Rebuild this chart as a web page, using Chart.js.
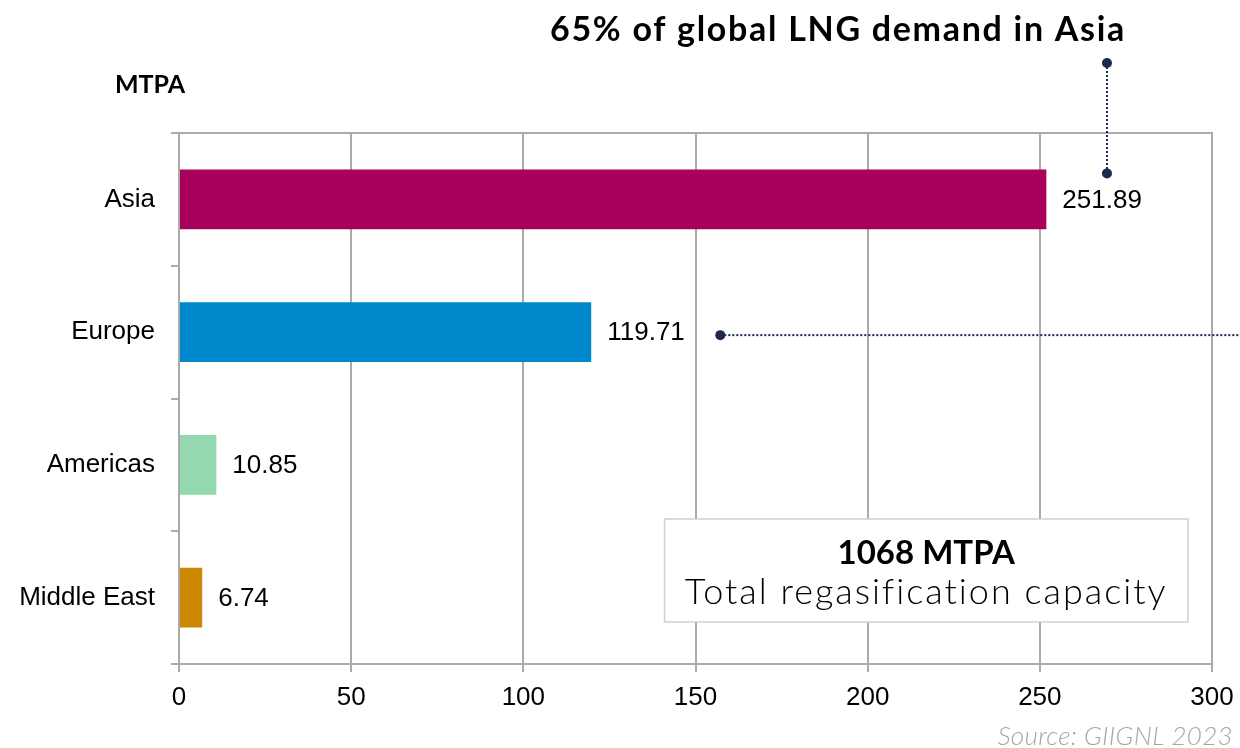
<!DOCTYPE html>
<html>
<head>
<meta charset="utf-8">
<script src="https://cdn.jsdelivr.net/npm/chart.js@4"></script>
<style>
  html, body { margin: 0; padding: 0; background: #fff; }
  #wrap { width: 1240px; height: 748px; position: relative; }
</style>
</head>
<body>
<div id="wrap"><canvas id="myChart" width="1240" height="748"></canvas></div>
<script>
const regions = ["Asia", "Europe", "Americas", "Middle East"];
const capacity = [251.89, 119.71, 10.85, 6.74];
const barColors = ["#A8005B", "#0088CC", "#93D8AE", "#CC8800"];
const xTicks = [0, 50, 100, 150, 200, 250, 300];

const titleText = "65% of global LNG demand in Asia";
const unitText = "MTPA";
const totalText = "1068 MTPA";
const totalSub = "Total regasification capacity";
const sourceText = "Source: GIIGNL 2023";

const NAVY = "#1B2A4E";
const GRID = "#ABABAB";
const ARIAL = "'Liberation Sans', Arial, sans-serif";
const GOTHIC = "Lato, 'Noto Sans', sans-serif";

// value labels at the end of each bar
const valueLabels = {
  id: "valueLabels",
  afterDatasetsDraw(chart) {
    const ctx = chart.ctx;
    const meta = chart.getDatasetMeta(0);
    ctx.save();
    ctx.font = "26px " + ARIAL;
    ctx.fillStyle = "#000";
    ctx.textBaseline = "middle";
    ctx.textAlign = "left";
    meta.data.forEach((bar, i) => {
      ctx.fillText(capacity[i].toFixed(2), bar.x + 16, bar.y + 1);
    });
    ctx.restore();
  },
};

function dot(ctx, x, y) {
  ctx.beginPath();
  ctx.arc(x, y, 5, 0, Math.PI * 2);
  ctx.fill();
}

// frame top, headings, callout lines, box and source
const extras = {
  id: "extras",
  beforeDatasetsDraw(chart) {
    const { ctx, chartArea } = chart;
    ctx.save();
    ctx.strokeStyle = GRID;
    ctx.lineWidth = 2;
    ctx.beginPath();
    ctx.moveTo(chartArea.left - 8, chartArea.top);
    ctx.lineTo(chartArea.right + 1, chartArea.top);
    ctx.stroke();
    ctx.restore();
  },
  afterDraw(chart) {
    const { ctx, scales } = chart;
    const x = scales.x, y = scales.y;
    ctx.save();

    // headline
    ctx.fillStyle = "#000";
    ctx.textAlign = "center";
    ctx.textBaseline = "alphabetic";
    ctx.font = "bold 34px " + GOTHIC;
    ctx.letterSpacing = "1.7px";
    ctx.fillText(titleText, 838, 41);

    ctx.font = "bold 25px " + GOTHIC;
    ctx.letterSpacing = "0px";
    ctx.fillText(unitText, 150, 93);

    // vertical callout for Asia
    const vx = x.getPixelForValue(269.5);
    const vTop = 63, vBot = y.getPixelForValue(0) - 26;
    ctx.strokeStyle = NAVY;
    ctx.fillStyle = NAVY;
    ctx.lineWidth = 2;
    ctx.setLineDash([2, 2]);
    ctx.beginPath();
    ctx.moveTo(vx, vTop);
    ctx.lineTo(vx, vBot);
    ctx.stroke();
    ctx.setLineDash([]);
    dot(ctx, vx, vTop);
    dot(ctx, vx, vBot);

    // horizontal callout for Europe
    const hy = y.getPixelForValue(1) + 3;
    const hx = x.getPixelForValue(157.2);
    ctx.setLineDash([2, 2]);
    ctx.beginPath();
    ctx.moveTo(hx, hy);
    ctx.lineTo(chart.width, hy);
    ctx.stroke();
    ctx.setLineDash([]);
    dot(ctx, hx, hy);

    // total box
    const bx0 = x.getPixelForValue(141), bx1 = x.getPixelForValue(293);
    const by0 = 519, by1 = 622;
    ctx.fillStyle = "#fff";
    ctx.fillRect(bx0, by0, bx1 - bx0, by1 - by0);
    ctx.strokeStyle = "#D0D0D0";
    ctx.lineWidth = 1.5;
    ctx.strokeRect(bx0, by0, bx1 - bx0, by1 - by0);
    const cx = (bx0 + bx1) / 2;
    ctx.fillStyle = "#000";
    ctx.textAlign = "center";
    ctx.font = "bold 33px " + GOTHIC;
    ctx.letterSpacing = "0px";
    ctx.fillText(totalText, cx, 564);
    ctx.font = "300 36px " + GOTHIC;
    ctx.letterSpacing = "2px";
    ctx.fillText(totalSub, cx, 604);

    // source
    ctx.fillStyle = "#A6A6A6";
    ctx.textAlign = "right";
    ctx.font = "italic 300 26px " + GOTHIC;
    ctx.letterSpacing = "0.3px";
    ctx.fillText(sourceText, 1233, 745);

    ctx.restore();
  },
};

new Chart(document.getElementById("myChart"), {
  type: "bar",
  data: {
    labels: regions,
    datasets: [
      {
        label: "MTPA",
        data: capacity,
        backgroundColor: barColors,
        borderWidth: 0,
        barPercentage: 0.9,
        categoryPercentage: 0.5,
      },
    ],
  },
  options: {
    indexAxis: "y",
    responsive: false,
    animation: false,
    devicePixelRatio: 1,
    layout: { padding: { top: 133, right: 28, left: 0, bottom: 0 } },
    plugins: {
      legend: { display: false },
      tooltip: { enabled: false },
    },
    scales: {
      x: {
        min: 0,
        max: 300,
        afterFit(scale) {
          scale.height = 84;
          scale.paddingLeft = 0;
          scale.paddingRight = 0;
        },
        afterBuildTicks(scale) { scale.ticks = xTicks.map((v) => ({ value: v })); },
        ticks: {
          color: "#000",
          padding: 10,
          maxRotation: 0,
          font: { family: ARIAL, size: 26 },
        },
        grid: { color: GRID, lineWidth: 2, tickLength: 8, drawTicks: true },
        border: { color: GRID, width: 2 },
      },
      y: {
        afterFit(scale) { scale.width = 179; },
        ticks: {
          color: "#000",
          padding: 16,
          font: { family: ARIAL, size: 26 },
        },
        grid: {
          offset: true,
          drawOnChartArea: false,
          drawTicks: true,
          tickLength: 8,
          color: GRID,
          lineWidth: 2,
        },
        border: { color: GRID, width: 2 },
      },
    },
  },
  plugins: [valueLabels, extras],
});
</script>
</body>
</html>
